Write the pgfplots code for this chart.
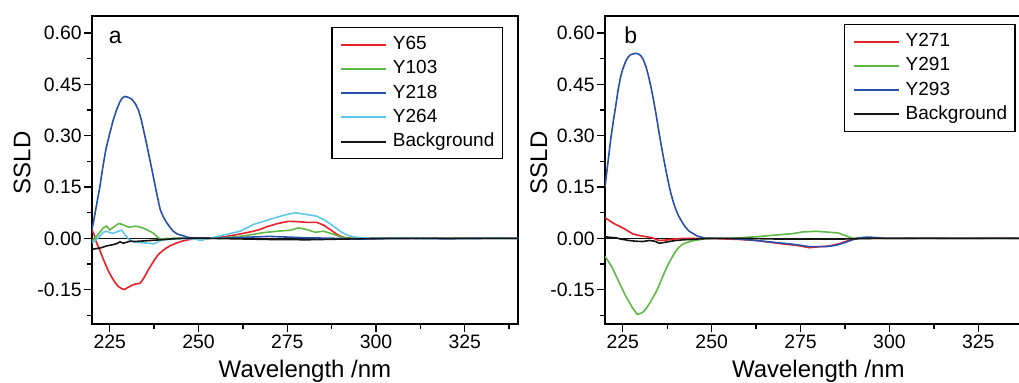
\documentclass[border=0pt]{standalone}
\usepackage{fontspec}
\setmainfont{Liberation Sans}
\usepackage{pgfplots}
\pgfplotsset{compat=1.18}
\definecolor{cR}{RGB}{232,32,40}
\definecolor{cG}{RGB}{95,185,70}
\definecolor{cB}{RGB}{40,80,170}
\definecolor{cC}{RGB}{95,200,230}
\definecolor{cK}{RGB}{20,20,20}
\pgfplotsset{
  myaxis/.style={
    scale only axis, height=154pt,
    xmin=220, xmax=340, ymin=-0.25, ymax=0.65,
    xtick={225,250,275,300,325},
    minor xtick={237.5,262.5,287.5,312.5,337.5},
    ytick={-0.15,0,0.15,0.30,0.45,0.60},
    minor ytick={-0.225,-0.075,0.075,0.225,0.375,0.525},
    xtick pos=bottom, ytick pos=left,
    tick align=outside,
    major tick length=3.8pt, minor tick length=2.5pt,
    every tick/.style={black, line width=0.7pt},
    axis line style={line width=0.75pt},
    /pgf/number format/assume math mode=true,
    yticklabel style={/pgf/number format/fixed, /pgf/number format/fixed zerofill, /pgf/number format/precision=2, inner sep=1.2pt},
    xticklabel style={inner sep=1.5pt},
    ticklabel style={font=\fontsize{9.7}{11}\selectfont},
    scaled y ticks=false,
    xlabel={Wavelength /nm}, ylabel={SSLD},
    xlabel style={font=\fontsize{12}{14}\selectfont, at={(axis description cs:0.5,0)}, anchor=base, yshift=-27pt},
    ylabel style={font=\fontsize{12}{14}\selectfont, anchor=center},
    legend cell align=left,
    legend image code/.code={\draw[#1, line width=1pt] (0pt,0pt) -- (22.5pt,0pt);},
    legend style={font=\fontsize{9.5}{11}\selectfont, draw=black, line width=0.7pt, inner xsep=4pt, inner ysep=3.4pt,
      nodes={inner sep=0pt, text height=7.5pt, text depth=2.5pt}, row sep=2.15pt, column sep=3pt, anchor=north east},
    every axis plot/.append style={line width=0.8pt, no marks},
  }
}
\begin{document}
\begin{tikzpicture}
% ---------------- panel a ----------------
\begin{axis}[myaxis, at={(46pt,29.5pt)}, anchor=south west, width=213pt,
  ylabel style={at={(axis description cs:-0.164,0.523)}},
  legend style={at={(axis description cs:0.965,0.964)}}]
\addplot[cK, line width=0.9pt, forget plot] coordinates {(220,0) (340,0)};
\addplot[cR] coordinates {
(220,0.025) (220.7,0.008) (221.3,-0.013) (222.3,-0.037) (223.2,-0.061) (224.6,-0.095) (225.5,-0.112) (226.5,-0.129)
(227.5,-0.141) (228.4,-0.147) (229.2,-0.149) (229.8,-0.145) (231.2,-0.137) (232.3,-0.133) (233.5,-0.131) (234.2,-0.122)
(234.9,-0.110) (235.8,-0.093) (236.8,-0.076) (237.7,-0.061) (238.7,-0.047) (240.0,-0.035) (241.05,-0.027) (242.5,-0.019)
(243.9,-0.013) (245.7,-0.007) (247.5,-0.003) (250,-0.001) (252.5,0.000) (255,0.002) (258,0.006) (261.7,0.013)
(265.5,0.021) (267.5,0.027) (269.2,0.034) (272.1,0.043) (275.3,0.050) (278.2,0.049) (280.5,0.047) (283.3,0.047)
(285.2,0.039) (287.1,0.026) (289.0,0.012) (290.8,0.003) (293,0.001) (296,0.000) (300,-0.001) (305,0.001)
(310,0.000) (315,0.002) (320,0.000) (325,0.001) (330,0.000) (335,0.001) (340,0.000)};
\addlegendentry{Y65}
\addplot[cG] coordinates {
(220,-0.008) (221,0.003) (221.8,0.012) (222.5,0.022) (223.2,0.031) (224.1,0.036) (225.0,0.025) (225.7,0.030)
(226.5,0.036) (227.4,0.043) (228.2,0.042) (228.9,0.039) (230.3,0.033) (231.2,0.034) (232.2,0.036) (233.6,0.033)
(235.4,0.026) (237.3,0.015) (238.7,0.002) (239.6,-0.002) (241,0.000) (245,0.001) (250,0.000) (255,0.002)
(258,0.003) (261.7,0.006) (265.5,0.012) (268.3,0.017) (272.1,0.021) (275.8,0.024) (278.2,0.031) (280.5,0.026)
(282.9,0.018) (285.2,0.021) (287.6,0.014) (289.9,0.005) (292,0.001) (295,0.000) (300,0.000) (310,0.001)
(320,0.000) (330,0.001) (340,0.000)};
\addlegendentry{Y103}
\addplot[cB] coordinates {
(220,0.026) (220.8,0.070) (221.5,0.110) (222.25,0.153) (223,0.205) (223.9,0.260) (225,0.307) (226,0.347)
(227,0.378) (227.9,0.400) (228.6,0.411) (229.3,0.415) (230.3,0.412) (231.2,0.407) (232.2,0.394) (233.05,0.376)
(233.8,0.350) (234.5,0.318) (235.4,0.275) (236.3,0.230) (237.1,0.190) (237.8,0.153) (238.5,0.118) (239.2,0.085)
(240.1,0.063) (241.05,0.046) (242,0.032) (242.9,0.021) (244,0.013) (245.3,0.009) (246.5,0.005) (247.5,0.002)
(250,0.001) (255,0.000) (260,0.002) (265,0.004) (270,0.006) (275,0.004) (280,0.002) (285,0.001)
(290,0.000) (295,-0.002) (300,-0.001) (310,0.000) (320,-0.001) (330,0.000) (340,0.000)};
\addlegendentry{Y218}
\addplot[cC] coordinates {
(220,-0.013) (221.3,-0.003) (222.3,0.008) (223.2,0.018) (224.1,0.021) (225.0,0.017) (226.0,0.015) (227.4,0.021)
(228.4,0.024) (229.2,0.012) (230.3,-0.002) (231.3,-0.008) (232.2,-0.011) (233.5,-0.012) (234.5,-0.013) (236,-0.014)
(237.3,-0.016) (238.3,-0.012) (239.2,-0.006) (240.5,-0.004) (242.9,-0.002) (246,0.000) (249,-0.002) (250.8,-0.006)
(252,-0.002) (254,0.002) (256.1,0.008) (258,0.012) (261.7,0.021) (263.5,0.030) (265.5,0.041) (267.5,0.047)
(269.2,0.053) (272.1,0.062) (274.9,0.070) (277.3,0.075) (280.5,0.070) (283.3,0.065) (285.6,0.053) (288.0,0.036)
(290.3,0.018) (292.6,0.007) (295.5,0.002) (300,0.000) (310,0.001) (320,0.000) (330,0.000) (340,0.000)};
\addlegendentry{Y264}
\addplot[cK] coordinates {
(220,-0.032) (221,-0.030) (222.3,-0.028) (223.2,-0.025) (224.1,-0.022) (225,-0.020) (226.0,-0.018) (227,-0.015)
(227.9,-0.010) (228.8,-0.014) (229.8,-0.011) (230.7,-0.008) (232,-0.009) (233.5,-0.008) (235,-0.007) (236.3,-0.006)
(239.2,-0.004) (242.9,-0.001) (245,0.000) (250,0.001) (255,0.000) (260,-0.001) (265,-0.002) (270,-0.003)
(275,-0.003) (280,-0.004) (285,-0.003) (290,-0.002) (295,-0.001) (300,0.000) (320,0.000) (340,0.000)};
\addlegendentry{Background}
\node[anchor=base west, font=\fontsize{11.5}{13}\selectfont] at (axis description cs:0.023,0.912) {a};
\end{axis}
% ---------------- panel b ----------------
\begin{axis}[myaxis, at={(302.5pt,29.5pt)}, anchor=south west, width=213.3pt,
  ylabel style={at={(axis description cs:-0.155,0.523)}},
  legend style={at={(axis description cs:0.963,0.974)}}]
\addplot[cK, line width=0.9pt, forget plot] coordinates {(220,0) (340,0)};
\addplot[cR] coordinates {
(220,0.060) (221,0.054) (222.1,0.046) (223,0.041) (224.0,0.036) (225.8,0.026) (227.7,0.014) (229,0.010)
(230.5,0.007) (233.3,0.002) (235.2,-0.006) (236.5,-0.005) (238.0,-0.004) (240,-0.001) (242,0.000) (250,0.000)
(255,-0.002) (258,-0.003) (262.5,-0.006) (266.3,-0.011) (270.0,-0.016) (273.8,-0.020) (277.5,-0.027) (280.4,-0.024)
(283.2,-0.022) (286.0,-0.015) (288.8,-0.005) (291,0.000) (300,0.000) (310,0.001) (320,0.000) (330,0.001) (340,0.000)};
\addlegendentry{Y271}
\addplot[cG] coordinates {
(220,-0.052) (221,-0.068) (222.1,-0.086) (223,-0.107) (224.0,-0.129) (225.8,-0.168) (227.7,-0.202) (229.1,-0.222)
(230.5,-0.217) (231.5,-0.206) (232.4,-0.192) (233.3,-0.176) (234.3,-0.158) (235.2,-0.137) (236.1,-0.115) (237,-0.093)
(238.0,-0.071) (239.0,-0.053) (239.9,-0.037) (240.8,-0.026) (241.8,-0.017) (243,-0.012) (244.1,-0.008) (246.9,-0.003)
(249,0.000) (255,0.000) (258,0.002) (262.5,0.005) (268.1,0.010) (272.8,0.014) (275.6,0.019) (279.4,0.021)
(283.2,0.018) (285.6,0.016) (287.9,0.007) (289.8,0.000) (295,0.000) (310,0.000) (325,0.000) (340,0.000)};
\addlegendentry{Y291}
\addplot[cB] coordinates {
(220,0.150) (220.8,0.220) (221.6,0.289) (222.3,0.340) (223.0,0.386) (223.7,0.435) (224.4,0.473) (225.1,0.498)
(225.8,0.517) (226.5,0.530) (227.2,0.537) (228.6,0.541) (229.4,0.539) (230.1,0.534) (230.8,0.522) (231.5,0.503)
(232.2,0.476) (232.9,0.444) (233.6,0.407) (234.3,0.367) (235,0.322) (235.7,0.279) (236.4,0.239) (237.1,0.201)
(237.8,0.165) (238.5,0.133) (239.2,0.107) (239.9,0.085) (240.8,0.064) (241.8,0.046) (242.7,0.032) (243.7,0.021)
(245,0.013) (246.0,0.007) (248,0.001) (250,0.000) (255,0.000) (258,-0.002) (262.5,-0.006) (268.1,-0.012)
(272.8,-0.017) (277.5,-0.024) (282.2,-0.024) (285,-0.020) (287.8,-0.011) (290.6,0.000) (292.5,0.003) (294.4,0.004)
(296.5,0.002) (299,0.000) (310,0.000) (325,0.000) (340,0.000)};
\addlegendentry{Y293}
\addplot[cK] coordinates {
(220,0.005) (221.5,0.003) (223,0.002) (224.5,-0.002) (226.8,-0.006) (228.5,-0.008) (230.5,-0.009) (232.5,-0.006)
(234,-0.008) (235.2,-0.014) (236.5,-0.012) (237.5,-0.010) (239.9,-0.006) (242,-0.004) (244,-0.003) (247,-0.001)
(250,0.000) (260,0.000) (265,-0.001) (270,-0.002) (275,-0.002) (280,-0.002) (285,-0.002) (290,-0.001)
(295,0.000) (340,0.000)};
\addlegendentry{Background}
\node[anchor=base west, font=\fontsize{11.5}{13}\selectfont] at (axis description cs:0.029,0.912) {b};
\end{axis}
\pgfresetboundingbox
\useasboundingbox (0,0) rectangle (509.5pt,191.5pt);
\end{tikzpicture}
\end{document}
